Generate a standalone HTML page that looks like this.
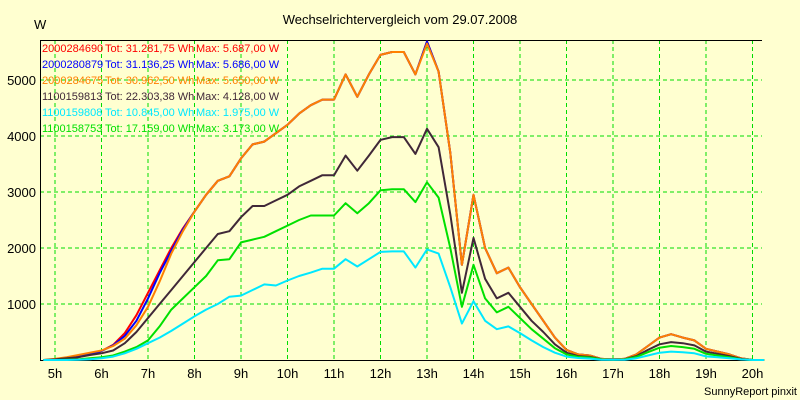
<!DOCTYPE html>
<html><head><meta charset="utf-8"><style>
body{margin:0;background:#ffffd0;}
svg{display:block;font-family:"Liberation Sans",Arial,sans-serif;}
</style></head><body>
<svg id="chart" width="800" height="400" viewBox="0 0 800 400">
<rect x="0" y="0" width="800" height="400" fill="#ffffd0"/>
<text x="400" y="24" font-size="13" text-anchor="middle">Wechselrichtervergleich vom 29.07.2008</text>
<text x="34" y="29" font-size="13">W</text>
<text x="797" y="395" font-size="11" text-anchor="end">SunnyReport pinxit</text>
<g id="grid"></g>
<g id="axes"></g>
<g id="series"></g>
<g id="legend"></g>
</svg>
<script>
const times=[4.75,5,5.25,5.5,5.75,6,6.25,6.5,6.75,7,7.25,7.5,7.75,8,8.25,8.5,8.75,9,9.25,9.5,9.75,10,10.25,10.5,10.75,11,11.25,11.5,11.75,12,12.25,12.5,12.75,13,13.25,13.5,13.75,14,14.25,14.5,14.75,15,15.25,15.5,15.75,16,16.25,16.5,16.75,17,17.25,17.5,17.75,18,18.25,18.5,18.75,19,19.25,19.5,19.75,20,20.25];
const redVals=[0,0,20,50,100,160,270,480,800,1200,1600,2000,2350,2650,2950,3200,3280,3600,3850,3900,4050,4200,4400,4550,4650,4650,5100,4700,5100,5450,5500,5500,5100,5687,5150,3700,1700,2950,2000,1550,1650,1300,1000,700,400,180,100,80,20,10,20,100,250,400,460,400,350,200,150,100,30,0,0];
const blueVals=[0,0,30,60,110,160,260,430,700,1100,1550,1950,2330,2650,2950,3200,3280,3600,3850,3900,4050,4200,4400,4550,4650,4650,5100,4700,5100,5450,5500,5500,5100,5686,5150,3700,1700,2950,2000,1550,1650,1300,1000,700,400,180,100,80,20,10,20,100,250,400,460,400,350,200,150,100,30,0,0];
const orangeVals=[0,20,50,90,130,170,250,380,620,950,1400,1900,2300,2650,2950,3200,3280,3600,3850,3900,4050,4200,4400,4550,4650,4650,5100,4700,5100,5450,5500,5500,5100,5650,5150,3700,1700,2950,2000,1550,1650,1300,1000,700,400,180,100,80,20,10,20,100,250,400,460,400,350,200,150,100,30,0,0];
const grayVals=[0,10,30,50,90,120,170,300,500,750,1000,1250,1500,1750,2000,2250,2300,2550,2750,2750,2850,2950,3100,3200,3300,3300,3650,3380,3650,3930,3980,3980,3680,4128,3800,2600,1200,2180,1450,1100,1200,950,700,500,280,130,70,55,15,8,15,70,180,280,320,300,260,150,110,70,20,0,0];
const greenVals=[0,0,5,10,30,50,80,150,230,350,600,900,1100,1300,1500,1780,1800,2100,2150,2200,2300,2400,2500,2580,2580,2580,2800,2620,2800,3030,3050,3050,2820,3173,2900,2000,950,1700,1100,850,950,750,550,380,210,100,55,45,10,5,10,55,140,220,250,230,200,110,80,50,15,0,0];
const cyanVals=[0,0,0,5,15,30,60,120,200,300,400,520,650,780,900,1000,1130,1150,1250,1350,1330,1420,1500,1560,1630,1630,1800,1670,1800,1930,1940,1940,1650,1975,1900,1300,650,1050,700,550,600,480,350,230,130,60,35,25,5,3,5,30,80,130,150,140,120,65,50,30,10,0,0];
const hourTicks=[5,6,7,8,9,10,11,12,13,14,15,16,17,18,19,20];
const yTicks=[1000,2000,3000,4000,5000];
const legendSerials=["2000284690","2000280879","2000284675","1100159813","1100159808","1100158753"];
const legendTot=["31.281,75","31.136,25","30.962,50","22.303,38","10.845,00","17.159,00"];
const legendMax=["5.687,00","5.686,00","5.650,00","4.128,00","1.975,00","3.173,00"];
const legendColors=["#ff0000","#0000ff","#ff8000","#402838","#00e8ff","#00e000"];

const NS="http://www.w3.org/2000/svg";
function xs(h){return 55+(h-5)*46.5;}
function ys(v){return 360-v*0.056;}
function mk(tag,attrs,parent){const e=document.createElementNS(NS,tag);for(const k in attrs)e.setAttribute(k,attrs[k]);parent.appendChild(e);return e;}
const grid=document.getElementById('grid'),axes=document.getElementById('axes'),ser=document.getElementById('series'),leg=document.getElementById('legend');
hourTicks.forEach(h=>{
  const l=mk('line',{x1:xs(h),x2:xs(h),y1:40,y2:360,stroke:'#00dd00','stroke-dasharray':'4,3'},grid);
  
  
  const t=mk('text',{x:xs(h),y:378,'font-size':13,'text-anchor':'middle'},axes);
  t.textContent=h+'h';
  
  
});
yTicks.forEach(v=>{
  const l=mk('line',{x1:40,x2:762,y1:ys(v),y2:ys(v),stroke:'#00dd00','stroke-dasharray':'4,3'},grid);
  
  
  const t=mk('text',{x:36,y:ys(v)+5,'font-size':13,'text-anchor':'end'},axes);
  t.textContent=v;
  
  
});
const ax=mk('path',{d:'M762,40.5H40.5V360.5H762',fill:'none',stroke:'#000'},axes);


const seriesList=[[redVals,0],[blueVals,1],[orangeVals,2],[grayVals,3],[greenVals,5],[cyanVals,4]];
seriesList.forEach(([vals,ci])=>{
  const pts=times.map((t,i)=>xs(t).toFixed(1)+','+ys(vals[i]).toFixed(1)).join(' ');
  const p=mk('polyline',{points:pts,fill:'none',stroke:legendColors[ci],'stroke-width':2,'stroke-linejoin':'round'},ser);
  
  
});
legendSerials.forEach((s,i)=>{
  const y=52+i*16;
  const t1=mk('text',{x:42,y:y,'font-size':11,fill:legendColors[i]},leg);
  t1.textContent=s;
  
  
  const t2=mk('text',{x:105,y:y,'font-size':11,fill:legendColors[i]},leg);
  t2.textContent='Tot: '+legendTot[i]+' Wh';
  
  
  const t3=mk('text',{x:196,y:y,'font-size':11,fill:legendColors[i]},leg);
  t3.textContent='Max: '+legendMax[i]+' W';
  
  
});
</script>
</body></html>
